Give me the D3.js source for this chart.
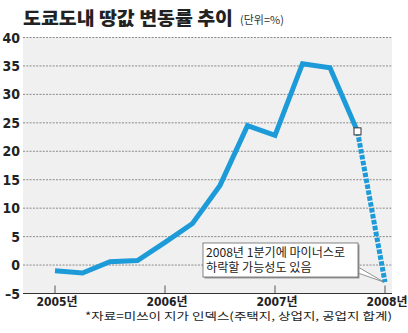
<!DOCTYPE html>
<html><head><meta charset="utf-8">
<script src="https://cdn.jsdelivr.net/npm/d3@7"></script>
<style>
body{margin:0;background:#fff;}
svg{display:block;}
.num{font-family:"Liberation Sans Narrow","DejaVu Sans Condensed","Noto Sans CJK KR",sans-serif;font-weight:bold;}
.kr{font-family:"Noto Sans CJK KR",sans-serif;}
</style></head>
<body>
<script>
const years = [2005, 2006, 2007, 2008];
const yearLabels = ["2005년", "2006년", "2007년", "2008년"];
// quarterly values, 2005 Q1 .. 2008 Q1
const quarters = [0,1,2,3,4,5,6,7,8,9,10,11,12];
const values = [-1.0, -1.4, 0.6, 0.8, 4.0, 7.3, 14.0, 24.5, 22.8, 35.4, 34.7, 23.5, -3.0];
const yTicks = [-5, 0, 5, 10, 15, 20, 25, 30, 35, 40];
const title = "도쿄도내 땅값 변동률 추이";
const unit = "(단위=%)";
const source = "*자료=미쓰이 지가 인덱스(주택지, 상업지, 공업지 합계)";
const note = ["2008년 1분기에 마이너스로", "하락할 가능성도 있음"];

const W = 408, H = 333;
const svg = d3.select("body").append("svg").attr("width", W).attr("height", H);

const plotL = 23, plotR = 392;
const x = d3.scaleLinear().domain([0, 12]).range([55, 385]);
const y = d3.scaleLinear().domain([-5, 40]).range([293.5, 37.5]);
const xYear = d3.scaleLinear().domain([2005, 2008]).range([55, 385]);

// background
svg.append("rect").attr("x", plotL).attr("y", y(40)).attr("width", plotR - plotL)
  .attr("height", y(-5) - y(40)).attr("fill", "#f0f0f1");

// gridlines
svg.append("g").selectAll("line").data(yTicks.filter(d => d > -5)).join("line")
  .attr("x1", plotL).attr("x2", plotR).attr("y1", d => y(d)).attr("y2", d => y(d))
  .attr("stroke", "#8a8a8a").attr("stroke-width", 1).attr("stroke-dasharray", "2,1.3");

// y labels
svg.append("g").selectAll("text").data(yTicks).join("text").attr("class", "num")
  .attr("x", 20).attr("y", d => y(d) + 5).attr("text-anchor", "end")
  .attr("font-size", 14).attr("fill", "#222")
  .text(d => d < 0 ? "–" + Math.abs(d) : d);

// x axis
svg.append("line").attr("x1", plotL).attr("x2", plotR).attr("y1", y(-5)).attr("y2", y(-5))
  .attr("stroke", "#333").attr("stroke-width", 1.2);
svg.append("g").selectAll("line").data(years).join("line")
  .attr("x1", d => xYear(d)).attr("x2", d => xYear(d))
  .attr("y1", y(-5)).attr("y2", y(-5) - 8).attr("stroke", "#555").attr("stroke-width", 1);
svg.append("g").selectAll("text").data(years).join("text").attr("class", "num")
  .attr("x", d => xYear(d) + 2).attr("y", 305.5).attr("text-anchor", "middle")
  .attr("font-size", 12).attr("fill", "#222")
  .text((d, i) => yearLabels[i]);

// line
const line = d3.line().x(d => x(d[0])).y(d => y(d[1]));
const pts = quarters.map((q, i) => [q, values[i]]);
svg.append("path").datum(pts.slice(0, 12)).attr("d", line)
  .attr("fill", "none").attr("stroke", "#1c9bd8").attr("stroke-width", 5)
  .attr("stroke-linejoin", "miter");
svg.append("path").datum(pts.slice(11)).attr("d", line)
  .attr("fill", "none").attr("stroke", "#1c9bd8").attr("stroke-width", 5)
  .attr("stroke-dasharray", "4.5,1.5");

// marker
const last = pts[11];
svg.append("rect").attr("x", x(last[0]) - 3.5).attr("y", y(last[1]) - 3.5)
  .attr("width", 7).attr("height", 7).attr("fill", "#fff").attr("stroke", "#333").attr("stroke-width", 1);

// callout
const end = pts[12];
const bx = 203, by = 243, bw = 155, bh = 34;
svg.append("path")
  .attr("d", `M${bx + bw},${by + bh - 10} L${x(end[0]) - 1},${y(end[1])} L${bx + bw},${by + bh - 4}`)
  .attr("fill", "#fff").attr("stroke", "#777").attr("stroke-width", 0.8);
svg.append("rect").attr("x", bx + 1.5).attr("y", by + 1.5).attr("width", bw).attr("height", bh)
  .attr("fill", "#999");
svg.append("rect").attr("x", bx).attr("y", by).attr("width", bw).attr("height", bh)
  .attr("fill", "#fff").attr("stroke", "#666").attr("stroke-width", 0.8);
svg.append("g").selectAll("text").data(note).join("text").attr("class", "kr")
  .attr("x", bx + 3).attr("y", (d, i) => by + 13.8 + i * 15.3).attr("font-size", 12.1)
  .attr("fill", "#222").text(d => d);

// title
svg.append("text").attr("class", "kr").attr("x", 23).attr("y", 25)
  .attr("font-size", 18.5).attr("font-weight", 900).attr("fill", "#222")
  .attr("textLength", 210).attr("lengthAdjust", "spacingAndGlyphs").text(title);
svg.append("text").attr("class", "kr").attr("x", 240).attr("y", 24)
  .attr("font-size", 11).attr("fill", "#333").text(unit);

// source
svg.append("text").attr("class", "kr").attr("x", 85).attr("y", 320)
  .attr("font-size", 10.5).attr("fill", "#222")
  .attr("textLength", 307).attr("lengthAdjust", "spacingAndGlyphs").text(source);
</script>
</body></html>
